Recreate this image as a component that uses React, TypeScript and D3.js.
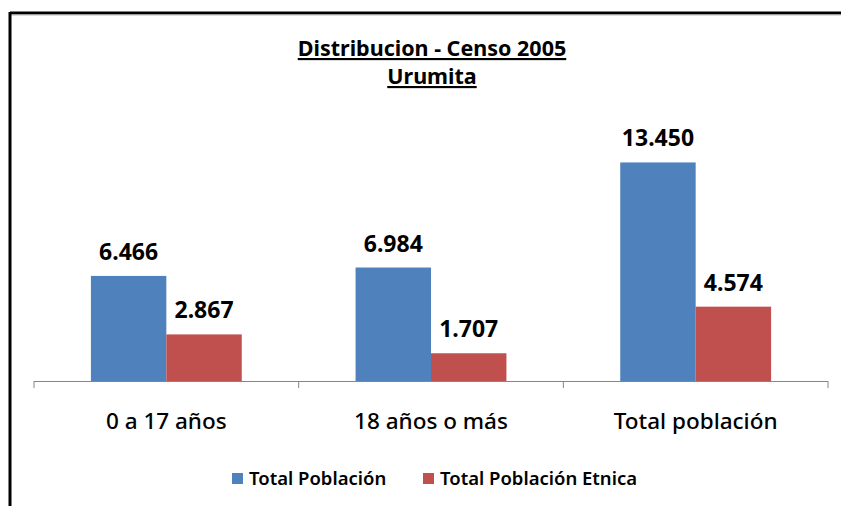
import React, { useEffect, useRef } from "react"
import * as d3 from "d3"

const categories = ["0 a 17 años", "18 años o más", "Total población"]
const seriesNames = ["Total Población", "Total Población Etnica"]
const totalPoblacion = [6466, 6984, 13450]
const totalEtnica = [2867, 1707, 4574]
const colors = ["#4F81BD", "#C0504D"]

const fmt = (v: number) => d3.format(",")(v).replace(/,/g, ".")

export default function App() {
  const ref = useRef<SVGSVGElement>(null)

  useEffect(() => {
    const width = 841, height = 506
    const svg = d3.select(ref.current)
    svg.selectAll("*").remove()

    const font = "'Noto Sans', 'Open Sans', sans-serif"

    // marco del grafico
    svg.append("line").attr("x1", 10).attr("x2", width).attr("y1", 13).attr("y2", 13)
      .attr("stroke", "#000").attr("stroke-width", 3)
    svg.append("line").attr("x1", 10).attr("x2", width).attr("y1", 15).attr("y2", 15)
      .attr("stroke", "#bbb").attr("stroke-width", 1)
    svg.append("line").attr("x1", 10).attr("x2", 10).attr("y1", 12).attr("y2", height)
      .attr("stroke", "#000").attr("stroke-width", 3)

    // titulo
    const title = svg.append("text").attr("x", 432).attr("text-anchor", "middle")
      .attr("font-family", font).attr("font-weight", "bold").attr("font-size", 21.5)
      .attr("text-decoration", "underline").attr("fill", "#000")
    title.append("tspan").attr("x", 432).attr("y", 56).text("Distribucion - Censo 2005")
    title.append("tspan").attr("x", 432).attr("y", 84).text("Urumita")

    const x0 = d3.scaleBand().domain(categories).range([34, 828])
      .paddingInner(0.43).paddingOuter(0.215)
    const x1 = d3.scaleBand().domain(seriesNames).range([0, x0.bandwidth()])
    const y = d3.scaleLinear().domain([0, 16000]).range([381, 121])

    const rows = categories.map((c, i) => ({ cat: c, vals: [totalPoblacion[i], totalEtnica[i]] }))

    const g = svg.selectAll("g.cat").data(rows).join("g").attr("class", "cat")
      .attr("transform", d => `translate(${x0(d.cat)},0)`)

    g.selectAll("rect").data(d => d.vals.map((v, j) => ({ v, s: seriesNames[j], j })))
      .join("rect")
      .attr("x", d => x1(d.s)!)
      .attr("width", x1.bandwidth())
      .attr("y", d => y(d.v))
      .attr("height", d => y(0) - y(d.v))
      .attr("fill", d => colors[d.j])

    g.selectAll("text.val").data(d => d.vals.map((v, j) => ({ v, s: seriesNames[j] })))
      .join("text").attr("class", "val")
      .attr("x", d => x1(d.s)! + x1.bandwidth() / 2)
      .attr("y", d => y(d.v) - 16)
      .attr("text-anchor", "middle")
      .attr("font-family", font).attr("font-weight", "bold").attr("font-size", 23)
      .attr("fill", "#000")
      .text(d => fmt(d.v))

    // eje x
    const axisG = svg.append("g").attr("transform", "translate(0,381)")
    axisG.append("line").attr("x1", 34).attr("x2", 828).attr("y1", 0.5).attr("y2", 0.5)
      .attr("stroke", "#868686")
    const ticks = [...categories.map(c => x0(c)! - x0.step() * x0.paddingInner() / 2), 828]
    axisG.selectAll("line.tick").data(ticks).join("line").attr("class", "tick")
      .attr("x1", d => d).attr("x2", d => d).attr("y1", 0).attr("y2", 7)
      .attr("stroke", "#868686")
    axisG.selectAll("text").data(categories).join("text")
      .attr("x", d => x0(d)! + x0.bandwidth() / 2)
      .attr("y", 48)
      .attr("text-anchor", "middle")
      .attr("font-family", font).attr("font-size", 22.5).attr("font-weight", 500)
      .attr("fill", "#000")
      .text(d => d)

    // leyenda
    const legendX = [232, 423]
    const lg = svg.selectAll("g.leg").data(seriesNames).join("g").attr("class", "leg")
      .attr("transform", (d, i) => `translate(${legendX[i]},473)`)
    lg.append("rect").attr("width", 11).attr("height", 11).attr("fill", (d, i) => colors[i])
    lg.append("text").attr("x", 17).attr("y", 11.5)
      .attr("font-family", font).attr("font-size", 18.5).attr("font-weight", 600)
      .attr("fill", "#000").text(d => d)
  }, [])

  return (
    <svg ref={ref} width={841} height={506}
      style={{ position: "absolute", left: 0, top: 0, background: "#fff" }} />
  )
}
